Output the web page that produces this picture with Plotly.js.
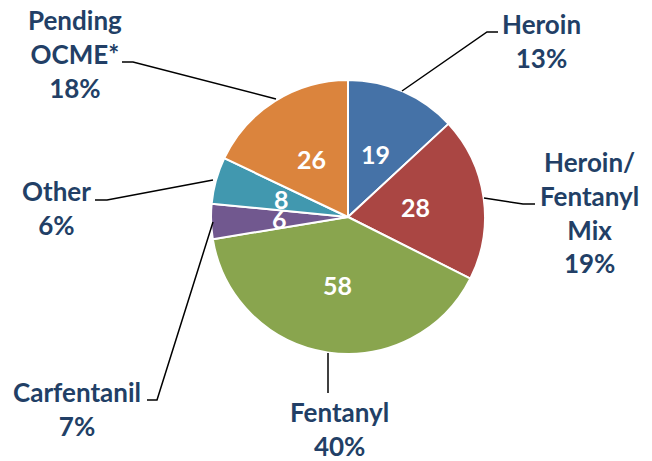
<!DOCTYPE html>
<html>
<head>
<meta charset="utf-8">
<script src="https://cdn.plot.ly/plotly-3.0.1.min.js"></script>
<style>html,body{margin:0;padding:0;background:#fff;}#chart{width:652px;height:461px;}</style>
</head>
<body>
<div id="chart"></div>
<script>
var categories = ["Heroin", "Heroin/ Fentanyl Mix", "Fentanyl", "Carfentanil", "Other", "Pending OCME*"];
var values = [19, 28, 58, 6, 8, 26];
var percentLabels = ["13%", "19%", "40%", "7%", "6%", "18%"];
var colors = ["#4572A7", "#AA4643", "#89A54E", "#71588F", "#4198AF", "#DB843D"];

var W = 652, H = 461;
function px(x, y) { return [x / W, 1 - y / H]; }

var navy = "#223F66";
var fontFam = "Lato, 'Open Sans', sans-serif";

var labelText = [
  "Heroin<br>" + percentLabels[0],
  "Heroin/<br>Fentanyl<br>Mix<br>" + percentLabels[1],
  "Fentanyl<br>" + percentLabels[2],
  "Carfentanil<br>" + percentLabels[3],
  "Other<br>" + percentLabels[4],
  "Pending<br>OCME*<br>" + percentLabels[5]
];
var labelPos = [[541, 41], [589, 212], [339, 429], [77, 409], [56, 208], [75, 54]];
var leaders = [
  [[402, 91], [487, 32], [498, 32]],
  [[484, 198], [523, 204], [535, 204]],
  [[328, 353], [328, 393]],
  [[213, 222], [157, 400], [147, 400]],
  [[213, 180], [107, 200], [95, 200]],
  [[276, 99], [133, 62], [122, 62]]
];

var annotations = categories.map(function (c, i) {
  var p = px(labelPos[i][0], labelPos[i][1]);
  return {
    x: p[0], y: p[1], xref: "paper", yref: "paper",
    text: labelText[i], showarrow: false,
    xanchor: "center", yanchor: "middle", align: "center",
    font: { family: fontFam, size: 26, color: navy, weight: "bold" }
  };
});

// value labels inside slices, placed at half radius on each slice's mid-angle
var cx = 348, cy = 217, r = 137;
var total = values.reduce(function (a, b) { return a + b; }, 0);
var cum = 0;
values.forEach(function (v) {
  var mid = (cum + v / 2) / total * 2 * Math.PI;
  cum += v;
  var p = px(cx + 0.5 * r * Math.sin(mid), cy - 0.5 * r * Math.cos(mid));
  annotations.push({
    x: p[0], y: p[1], xref: "paper", yref: "paper",
    text: String(v), showarrow: false, xanchor: "center", yanchor: "middle",
    font: { family: fontFam, size: 25, color: "#fff", weight: "bold" }
  });
});

var shapes = leaders.map(function (pts) {
  var d = pts.map(function (q, k) {
    var p = px(q[0], q[1]);
    return (k === 0 ? "M" : "L") + p[0] + "," + p[1];
  }).join(" ");
  return { type: "path", xref: "paper", yref: "paper", path: d, line: { color: "#000", width: 1.5 } };
});

var trace = {
  type: "pie",
  labels: categories,
  values: values,
  textinfo: "none",
  sort: false,
  direction: "clockwise",
  rotation: 0,
  marker: { colors: colors, line: { color: "#fff", width: 2 } },
  hoverinfo: "none",
  domain: { x: [(cx - r) / W, (cx + r) / W], y: [(H - cy - r) / H, (H - cy + r) / H] }
};

var layout = {
  width: W, height: H,
  margin: { l: 0, r: 0, t: 0, b: 0 },
  showlegend: false,
  paper_bgcolor: "#fff",
  annotations: annotations,
  shapes: shapes
};

Plotly.newPlot("chart", [trace], layout, { displayModeBar: false, staticPlot: true });
</script>
</body>
</html>
